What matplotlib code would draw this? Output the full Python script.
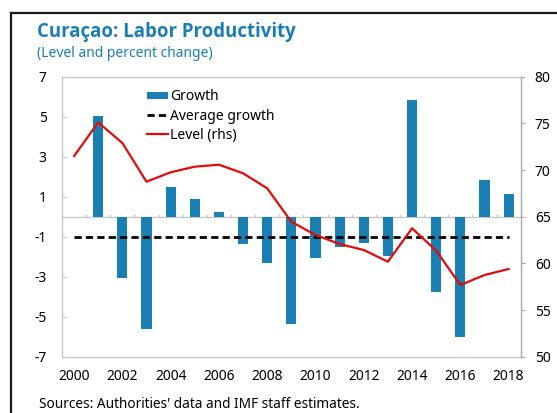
import matplotlib
matplotlib.use("Agg")
import matplotlib.pyplot as plt
from matplotlib.lines import Line2D
import numpy as np

plt.rcParams['font.family'] = ['Noto Sans', 'DejaVu Sans']

years = list(range(2000, 2019))
growth = [np.nan, 5.05, -3.08, -5.63, 1.47, 0.89, 0.22, -1.37, -2.33, -5.38,
          -2.08, -1.50, -1.30, -1.97, 5.83, -3.78, -6.00, 1.83, 1.13]
avg_growth = -1.0
level = [71.5, 75.1, 72.9, 68.75, 69.76, 70.36, 70.57, 69.65, 68.04, 64.46,
         63.04, 62.07, 61.43, 60.18, 63.76, 61.36, 57.68, 58.75, 59.4]
left_ticks = [7, 5, 3, 1, -1, -3, -5, -7]
right_ticks = [80, 75, 70, 65, 60, 55, 50]
xtick_labels = [str(y) for y in years[::2]]

BLUE = '#1a80b4'
RED = '#e30a0a'
GRAY = '#c8c8c8'
TITLE_BLUE = '#1a7db8'

W, H = 557, 413
fig = plt.figure(figsize=(W / 100, H / 100), dpi=100)

ax = fig.add_axes([62 / W, 1 - 356.7 / H, (520.7 - 62) / W, (356.7 - 76.7) / H])
x = np.arange(len(years))

bars = ax.bar(x, growth, width=0.42, color=BLUE, zorder=2, label='Growth')
ax.axhline(0, color=GRAY, lw=1, zorder=1)
# small ticks on the zero line between categories
ax.vlines(np.arange(len(years) - 1) + 0.5, 0, 0.16, color=GRAY, lw=1, zorder=1)
avg_line, = ax.plot([x[0], x[-1]], [avg_growth, avg_growth], color='black', lw=2,
                    dashes=(2.6, 1.5), zorder=3, label='Average growth')

ax.set_xlim(-0.5, len(years) - 0.5)
ax.set_ylim(-7, 7)
ax.set_yticks(left_ticks)
ax.set_yticklabels([str(t) for t in left_ticks])
ax.set_xticks(x[::2])
ax.set_xticklabels(xtick_labels)
ax.tick_params(axis='y', direction='in', length=3.6, color=GRAY, labelsize=10,
               pad=11)
ax.tick_params(axis='x', length=0, labelsize=10, pad=9)
for s in ['left', 'top', 'bottom']:
    ax.spines[s].set_color(GRAY)
    ax.spines[s].set_linewidth(1)
ax.spines['right'].set_visible(False)

ax2 = ax.twinx()
lvl_line, = ax2.plot(x, level, color=RED, lw=1.6, zorder=4, label='Level (rhs)')
ax2.set_ylim(50, 80)
ax2.set_yticks(right_ticks)
ax2.set_yticklabels([str(t) for t in right_ticks])
ax2.tick_params(axis='y', direction='out', length=3.2, color='#a8a8a8',
                labelsize=10, pad=7)
for s in ['left', 'top', 'bottom']:
    ax2.spines[s].set_visible(False)
ax2.spines['right'].set_color('#a8a8a8')
ax2.spines['right'].set_linewidth(1)

leg = fig.legend([bars, avg_line, lvl_line],
                 ['Growth', 'Average growth', 'Level (rhs)'], loc='upper left',
                 bbox_to_anchor=(146.5 / W, 1 - 89.5 / H), frameon=False,
                 fontsize=10, handlelength=1.55, handleheight=0.45,
                 handletextpad=0.12, labelspacing=0.3, borderpad=0,
                 borderaxespad=0)

fig.text(37 / W, 1 - 37.5 / H, 'Curaçao: Labor Productivity', color=TITLE_BLUE,
         fontsize=13.4, fontweight='bold', family=['Open Sans', 'DejaVu Sans'],
         va='baseline', ha='left')
fig.text(37 / W, 1 - 57 / H, '(Level and percent change)', color=TITLE_BLUE,
         fontsize=10, va='baseline', ha='left')
fig.text(39 / W, 1 - 408.5 / H, "Sources: Authorities' data and IMF staff estimates.",
         color='black', fontsize=9.8, va='baseline', ha='left')

# outer frame (cropped)
fig.add_artist(Line2D([11 / W, 11 / W], [0, 1 - 13 / H], transform=fig.transFigure,
                      color='#1a1a1a', lw=1.6))
fig.add_artist(Line2D([11 / W, 1], [1 - 13 / H, 1 - 13 / H], transform=fig.transFigure,
                      color='#1a1a1a', lw=1.6))

fig.savefig('out.png', dpi=100)
